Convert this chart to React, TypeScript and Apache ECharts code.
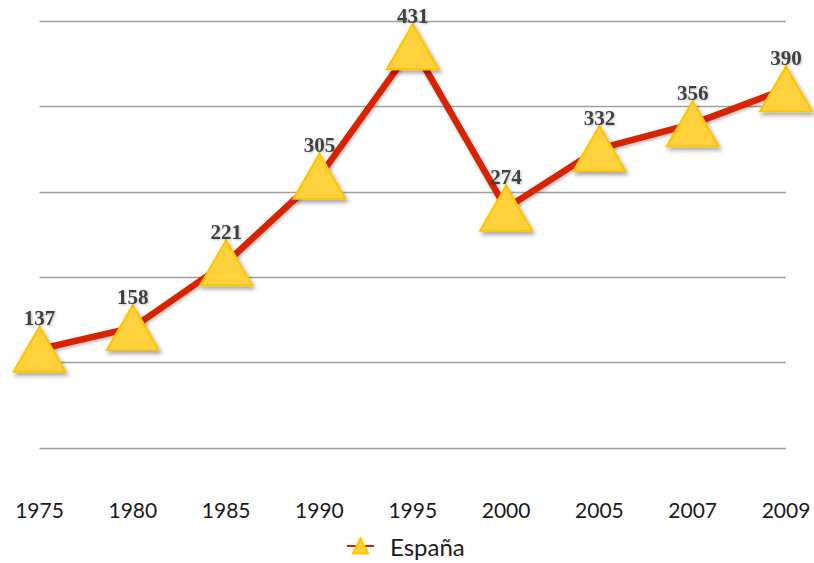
import React, { useEffect, useRef } from "react";
import * as echarts from "echarts";

const categories = ["1975", "1980", "1985", "1990", "1995", "2000", "2005", "2007", "2009"];
const espana = [137, 158, 221, 305, 431, 274, 332, 356, 390];
const seriesName = "España";

export default function App() {
  const ref = useRef<HTMLDivElement>(null);
  useEffect(() => {
    if (!ref.current) return;
    const chart = echarts.init(ref.current, null, { renderer: "svg" });
    chart.setOption({
      animation: false,
      backgroundColor: "#ffffff",
      grid: { left: 39.5, right: 28, top: 21, bottom: 115, containLabel: false },
      legend: {
        show: true,
        left: 341,
        top: 529,
        itemWidth: 27,
        itemHeight: 19,
        itemGap: 10,
        textStyle: {
          fontFamily: "Lato",
          fontSize: 24,
          color: "#1a1a1a",
          padding: [0, 0, 0, 11],
        },
        data: [seriesName],
      },
      xAxis: {
        type: "category",
        data: categories,
        boundaryGap: false,
        axisLine: { show: false },
        axisTick: { show: false },
        axisLabel: {
          margin: 51,
          fontFamily: "Lato",
          fontSize: 21,
          color: "#1a1a1a",
        },
        splitLine: { show: false },
      },
      yAxis: {
        type: "value",
        min: 41,
        max: 456,
        interval: 83,
        axisLine: { show: false },
        axisTick: { show: false },
        axisLabel: { show: false },
        splitLine: { show: true, lineStyle: { color: "#a0a0a0", width: 1.3 } },
      },
      series: [
        {
          name: seriesName,
          type: "line",
          data: espana,
          symbol: "triangle",
          symbolSize: [52, 45],
          showAllSymbol: true,
          lineStyle: {
            color: "#d92000",
            width: 6.5,
            shadowColor: "rgba(0,0,0,0.25)",
            shadowBlur: 3,
            shadowOffsetX: 1,
            shadowOffsetY: 2,
          },
          itemStyle: {
            color: "#ffd23e",
            borderColor: "#ffc400",
            borderWidth: 2,
            shadowColor: "rgba(0,0,0,0.35)",
            shadowBlur: 4,
            shadowOffsetX: 2,
            shadowOffsetY: 3,
          },
          label: {
            show: true,
            position: "top",
            distance: -3,
            fontFamily: "Liberation Serif",
            fontWeight: "bold",
            fontSize: 21,
            color: "#404040",
            textShadowColor: "rgba(0,0,0,0.25)",
            textShadowBlur: 2,
            textShadowOffsetX: 1,
            textShadowOffsetY: 1,
          },
        },
      ],
    });
    return () => chart.dispose();
  }, []);
  return <div ref={ref} style={{ width: 814, height: 563, position: "absolute", left: 0, top: 0 }} />;
}
